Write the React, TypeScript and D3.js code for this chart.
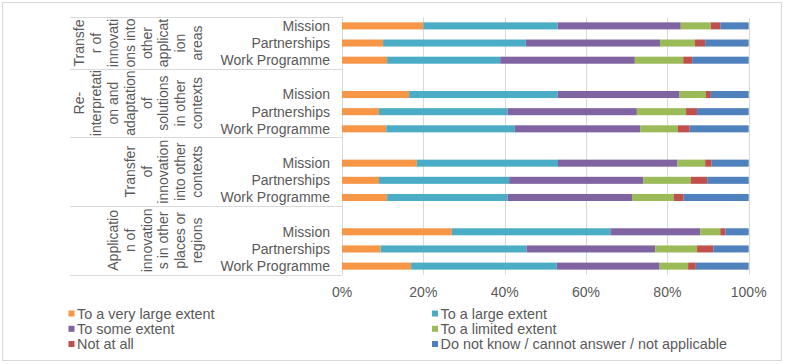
import React, { useRef, useEffect } from "react";
import * as d3 from "d3";

// wrapped group labels, as they appear in the chart
const groupLabels = [
  ["Transfe", "r of", "innovati", "ons into", "other", "applicat", "ion", "areas"],
  ["Re-", "interpretati", "on and", "adaptation", "of", "solutions", "in other", "contexts"],
  ["Transfer", "of", "innovation", "into other", "contexts"],
  ["Applicatio", "n of", "innovation", "s in other", "places or", "regions"],
];
const rowLabels = ["Mission", "Partnerships", "Work Programme"];
const seriesNames = [
  "To a very large extent",
  "To a large extent",
  "To some extent",
  "To a limited extent",
  "Not at all",
  "Do not know / cannot answer / not applicable",
];
const seriesColors = ["#f79646", "#4bacc6", "#8064a2", "#9bbb59", "#c0504d", "#4f81bd"];
const tickLabels = [0, 20, 40, 60, 80, 100];

// values per series, ordered group by group (Mission, Partnerships, Work Programme)
const veryLarge = [20.0, 10.1, 11.1, 16.5, 9.1, 10.9, 18.4, 9.1, 11.1, 27.0, 9.5, 17.0];
const large = [33.0, 35.1, 27.8, 36.5, 31.6, 31.6, 34.7, 32.0, 29.6, 39.0, 35.9, 35.8];
const some = [30.3, 33.0, 33.1, 30.0, 31.8, 30.8, 29.4, 33.0, 30.6, 22.1, 31.6, 25.3];
const limited = [7.4, 8.6, 11.9, 6.5, 12.1, 9.3, 6.8, 11.7, 10.3, 4.9, 10.3, 7.0];
const notAtAll = [2.3, 2.5, 2.2, 1.2, 2.7, 2.9, 1.6, 4.0, 2.4, 1.3, 4.0, 1.9];
const dontKnow = [7.0, 10.7, 13.9, 9.3, 12.7, 14.5, 9.1, 10.2, 16.0, 5.7, 8.7, 13.0];

const seriesValues = [veryLarge, large, some, limited, notAtAll, dontKnow];

function App() {
  const chartRef = useRef<HTMLDivElement>(null);

  useEffect(() => {
    d3.select(chartRef.current).select("svg").remove();

    const width = 785,
      height = 364;
    const left = 342,
      right = 748.7,
      top = 17.3,
      bottom = 274.7;
    const labelLeft = 70;
    const textColor = "#595959";
    const gridColor = "#d9d9d9";
    const font = "'Liberation Sans', Arial, sans-serif";

    // category slots: every group after the first starts with a blank slot
    const slots: string[] = [];
    const slotGroup: number[] = [];
    groupLabels.forEach((_, gi) => {
      if (gi > 0) {
        slots.push(`blank-${gi}`);
        slotGroup.push(gi);
      }
      rowLabels.forEach(r => {
        slots.push(`${gi}-${r}`);
        slotGroup.push(gi);
      });
    });

    const rows = groupLabels.flatMap((_, gi) =>
      rowLabels.map((r, ri) => {
        const rec: any = { key: `${gi}-${r}`, label: r };
        seriesNames.forEach((s, si) => {
          rec[s] = seriesValues[si][gi * rowLabels.length + ri];
        });
        return rec;
      })
    );

    const x = d3.scaleLinear().domain([0, 100]).range([left, right]);
    const y = d3
      .scaleBand()
      .domain(slots)
      .range([top, bottom])
      .paddingInner(0.59)
      .paddingOuter(0.295);

    const svg = d3
      .select(chartRef.current)
      .append("svg")
      .attr("width", width)
      .attr("height", height)
      .style("position", "absolute")
      .style("left", 0)
      .style("top", 0)
      .style("font-family", font);

    svg
      .append("rect")
      .attr("x", 2.5)
      .attr("y", 2.5)
      .attr("width", 779)
      .attr("height", 358)
      .attr("fill", "#fff")
      .attr("stroke", gridColor);

    // gridlines
    svg
      .append("g")
      .selectAll("line")
      .data(tickLabels)
      .enter()
      .append("line")
      .attr("x1", d => Math.round(x(d)) + 0.5)
      .attr("x2", d => Math.round(x(d)) + 0.5)
      .attr("y1", top)
      .attr("y2", bottom)
      .attr("stroke", gridColor);

    // group boundaries on the category axis
    const groupStart = groupLabels.map((_, gi) => {
      const idx = slotGroup.indexOf(gi);
      return (y(slots[idx]) as number) - (y.step() * y.paddingInner()) / 2;
    });
    const bounds = [...groupStart, bottom];

    svg
      .append("g")
      .selectAll("line")
      .data(bounds)
      .enter()
      .append("line")
      .attr("x1", labelLeft)
      .attr("x2", left)
      .attr("y1", d => Math.round(d) + 0.5)
      .attr("y2", d => Math.round(d) + 0.5)
      .attr("stroke", gridColor);

    svg
      .append("line")
      .attr("x1", left + 0.5)
      .attr("x2", left + 0.5)
      .attr("y1", top)
      .attr("y2", bottom)
      .attr("stroke", gridColor);

    // bars
    const stack = d3.stack<any>().keys(seriesNames);
    const layers = stack(rows);

    svg
      .append("g")
      .selectAll("g")
      .data(layers)
      .enter()
      .append("g")
      .attr("fill", (d, i) => seriesColors[i])
      .selectAll("rect")
      .data(d => d)
      .enter()
      .append("rect")
      .attr("x", d => x(d[0]))
      .attr("width", d => x(d[1]) - x(d[0]))
      .attr("y", d => y(d.data.key) as number)
      .attr("height", y.bandwidth());

    // row labels
    svg
      .append("g")
      .selectAll("text")
      .data(rows)
      .enter()
      .append("text")
      .attr("x", 330)
      .attr("y", d => (y(d.key) as number) + y.bandwidth() / 2)
      .attr("dy", "0.35em")
      .attr("text-anchor", "end")
      .attr("font-size", "14px")
      .attr("fill", textColor)
      .text(d => d.label);

    // group labels, rotated, lines stacked toward the row labels
    const lineGap = 16.8;
    const lastLineX = 197;
    groupLabels.forEach((lines, gi) => {
      const cy = (bounds[gi] + bounds[gi + 1]) / 2;
      lines.forEach((line, li) => {
        const lx = lastLineX - (lines.length - 1 - li) * lineGap;
        svg
          .append("text")
          .attr("transform", `translate(${lx}, ${cy}) rotate(-90)`)
          .attr("dy", "0.35em")
          .attr("text-anchor", "middle")
          .attr("font-size", "14px")
          .attr("fill", textColor)
          .text(line);
      });
    });

    // x axis labels
    svg
      .append("g")
      .selectAll("text")
      .data(tickLabels)
      .enter()
      .append("text")
      .attr("x", d => x(d))
      .attr("y", 291.7)
      .attr("dy", "0.35em")
      .attr("text-anchor", "middle")
      .attr("font-size", "14px")
      .attr("fill", textColor)
      .text(d => `${d}%`);

    // legend
    const legendCols = [68.5, 432];
    const legendRows = [313.5, 328.8, 344];
    const legend = svg
      .append("g")
      .selectAll("g")
      .data(seriesNames)
      .enter()
      .append("g")
      .attr(
        "transform",
        (d, i) => `translate(${legendCols[i % 2]}, ${legendRows[Math.floor(i / 2)]})`
      );

    legend
      .append("rect")
      .attr("x", 0)
      .attr("y", -3)
      .attr("width", 6)
      .attr("height", 6)
      .attr("fill", (d, i) => seriesColors[i]);

    legend
      .append("text")
      .attr("x", 8.5)
      .attr("dy", "0.35em")
      .attr("font-size", "14.4px")
      .attr("fill", textColor)
      .text(d => d);
  }, []);

  return <div ref={chartRef}></div>;
}

export default App;
